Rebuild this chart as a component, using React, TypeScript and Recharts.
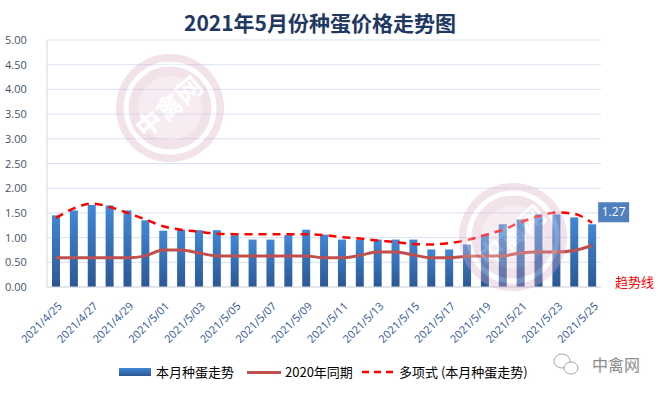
import React from "react";
import { ComposedChart, Bar, Line, XAxis, YAxis, CartesianGrid, LabelList } from "recharts";

const dates = [
  "2021/4/25", "2021/4/26", "2021/4/27", "2021/4/28", "2021/4/29", "2021/4/30",
  "2021/5/01", "2021/5/02", "2021/5/03", "2021/5/04", "2021/5/05", "2021/5/06",
  "2021/5/07", "2021/5/08", "2021/5/09", "2021/5/10", "2021/5/11", "2021/5/12",
  "2021/5/13", "2021/5/14", "2021/5/15", "2021/5/16", "2021/5/17", "2021/5/18",
  "2021/5/19", "2021/5/20", "2021/5/21", "2021/5/22", "2021/5/23", "2021/5/24",
  "2021/5/25",
];

const price2021 = [
  1.45, 1.55, 1.66, 1.65, 1.55, 1.35, 1.14, 1.16, 1.15, 1.15, 1.05, 0.96,
  0.96, 1.05, 1.16, 1.06, 0.96, 0.96, 0.96, 0.96, 0.96, 0.76, 0.76, 0.86,
  1.06, 1.27, 1.37, 1.47, 1.47, 1.41, 1.27,
];

const price2020 = [
  0.59, 0.59, 0.59, 0.59, 0.59, 0.63, 0.75, 0.75, 0.69, 0.63, 0.63, 0.63,
  0.63, 0.63, 0.63, 0.59, 0.59, 0.64, 0.71, 0.71, 0.65, 0.59, 0.59, 0.62,
  0.63, 0.63, 0.69, 0.71, 0.71, 0.74, 0.84,
];

const trend = [
  1.40, 1.59, 1.69, 1.62, 1.50, 1.37, 1.23, 1.16, 1.12, 1.08, 1.07, 1.07,
  1.07, 1.07, 1.07, 1.05, 1.01, 0.98, 0.94, 0.91, 0.87, 0.86, 0.89, 0.95,
  1.05, 1.16, 1.31, 1.43, 1.51, 1.48, 1.30,
];

const yTicks = [0, 0.5, 1, 1.5, 2, 2.5, 3, 3.5, 4, 4.5, 5];

const seriesNames = ["本月种蛋走势", "2020年同期", "多项式 (本月种蛋走势)"];
const title = "2021年5月份种蛋价格走势图";
const brand = "中禽网";

const data = dates.map((d, i) => ({
  date: d,
  cur: price2021[i],
  prev: price2020[i],
  trend: trend[i],
}));

const FONT = "'Noto Sans CJK SC', 'Noto Sans', sans-serif";

const YTick = (props: any) => {
  const { y, payload } = props;
  return (
    <text x={5} y={y} dy={4} textAnchor="start" fontSize={11} fill="#44546A" fontFamily="'Open Sans', 'Noto Sans', sans-serif">
      {Number(payload.value).toFixed(2)}
    </text>
  );
};

const XTick = (props: any) => {
  const { x, y, payload } = props;
  return (
    <g transform={`translate(${x + 4},${y + 9})`}>
      <text x={0} y={0} dy={4} textAnchor="end" transform="rotate(-45)" fontSize={11} fill="#2F5597" fontFamily="'Open Sans', 'Noto Sans', sans-serif">
        {payload.value}
      </text>
    </g>
  );
};

const LastLabel = (props: any) => {
  const { x, y, width, value, index } = props;
  if (index !== dates.length - 1) return null;
  const bx = x + width / 2 + 6;
  const by = y - 22;
  return (
    <g>
      <rect x={bx} y={by} width={31} height={20} fill="#4F7FBD" />
      <text x={bx + 15.5} y={by + 14} textAnchor="middle" fontSize={12} fill="#FFFFFF" fontFamily="'Open Sans', sans-serif">
        {Number(value).toFixed(2)}
      </text>
    </g>
  );
};

const Watermark = ({ cx, cy }: { cx: number; cy: number }) => (
  <g opacity={0.32}>
    <circle cx={cx} cy={cy} r={54} fill="#D9A6BF" />
    <circle cx={cx} cy={cy} r={44} fill="none" stroke="#FFFFFF" strokeWidth={5} />
    <circle cx={cx} cy={cy} r={32} fill="#FFFFFF" opacity={0.35} />
    <text x={cx} y={cy + 8} textAnchor="middle" fontSize={26} fontWeight={700} fill="#FFFFFF" transform={`rotate(-40 ${cx} ${cy})`} fontFamily={FONT}>
      {brand}
    </text>
  </g>
);

export default function App() {
  return (
    <div style={{ position: "fixed", left: 0, top: 0, width: 658, height: 394, background: "#FFFFFF", fontFamily: FONT }}>
      <ComposedChart
        width={658}
        height={394}
        data={data}
        margin={{ top: 40, right: 57, left: 0, bottom: 47 }}
      >
        <defs>
          <linearGradient id="barGrad" x1="0" y1="0" x2="0" y2="1">
            <stop offset="0%" stopColor="#4287D6" />
            <stop offset="100%" stopColor="#2B5896" />
          </linearGradient>
        </defs>
        <CartesianGrid vertical={false} stroke="#D9E2F3" />
        <XAxis
          dataKey="date"
          interval={1}
          tick={<XTick />}
          tickLine={false}
          axisLine={{ stroke: "#D9D9D9" }}
          height={60}
        />
        <YAxis
          domain={[0, 5]}
          ticks={yTicks}
          tick={<YTick />}
          tickLine={false}
          axisLine={{ stroke: "#D9D9D9" }}
          width={47}
        />
        <Bar dataKey="cur" name={seriesNames[0]} fill="url(#barGrad)" barSize={8} isAnimationActive={false}>
          <LabelList dataKey="cur" content={<LastLabel />} />
        </Bar>
        <Line type="monotone" dataKey="prev" name={seriesNames[1]} stroke="#C0504D" strokeWidth={3} dot={false} isAnimationActive={false} />
        <Line type="monotone" dataKey="trend" name={seriesNames[2]} stroke="#FF0000" strokeWidth={2.5} strokeDasharray="8 6" dot={false} isAnimationActive={false} />
      </ComposedChart>

      <svg style={{ position: "absolute", left: 0, top: 0, pointerEvents: "none" }} width={658} height={394}>
        <Watermark cx={170} cy={108} />
        <Watermark cx={513} cy={237} />
        <g fill="none" stroke="#A6A6A6" strokeWidth={1}>
          <ellipse cx={562} cy={361} rx={8} ry={7} />
          <ellipse cx={571} cy={368} rx={7} ry={6} fill="#FFFFFF" />
        </g>
      </svg>

      <div style={{ position: "absolute", left: 0, top: 8, width: 640, textAlign: "center", fontSize: 21, fontWeight: 700, color: "#1F3864", lineHeight: "28px" }}>
        {title}
      </div>

      <div style={{ position: "absolute", left: 615, top: 274, fontSize: 13, color: "#FF0000", lineHeight: "16px" }}>
        趋势线
      </div>

      <div style={{ position: "absolute", left: 0, top: 363, width: 658, height: 18, fontSize: 13, color: "#000000" }}>
        <div style={{ position: "absolute", left: 119, top: 5, width: 32, height: 8, background: "linear-gradient(#4287D6, #2B5896)" }} />
        <div style={{ position: "absolute", left: 156, top: 0, lineHeight: "18px" }}>{seriesNames[0]}</div>
        <div style={{ position: "absolute", left: 247, top: 8, width: 34, height: 3, background: "#C0504D" }} />
        <div style={{ position: "absolute", left: 285, top: 0, lineHeight: "18px" }}>{seriesNames[1]}</div>
        <svg style={{ position: "absolute", left: 362, top: 6 }} width={34} height={6}>
          <line x1={0} y1={3} x2={34} y2={3} stroke="#FF0000" strokeWidth={2.5} strokeDasharray="7 5" />
        </svg>
        <div style={{ position: "absolute", left: 399, top: 0, lineHeight: "18px" }}>{seriesNames[2]}</div>
      </div>

      <div style={{ position: "absolute", left: 592, top: 354, fontSize: 16, color: "#8C8C8C", lineHeight: "20px" }}>
        {brand}
      </div>
    </div>
  );
}
